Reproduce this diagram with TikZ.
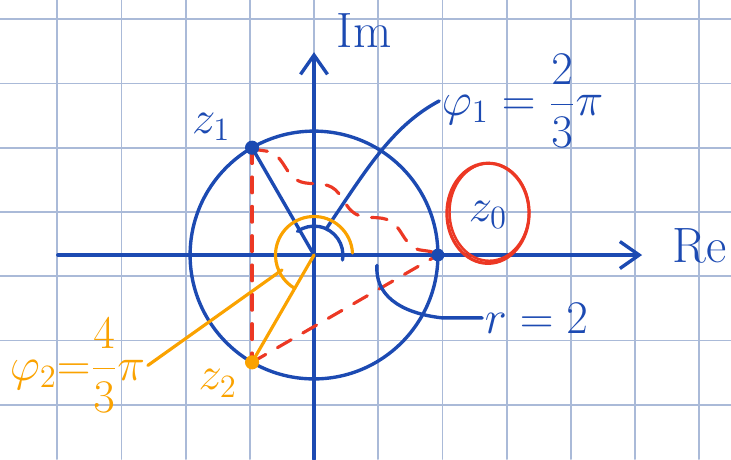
\documentclass[tikz,border=0pt]{standalone}
\usetikzlibrary{arrows.meta,decorations.pathmorphing}

\definecolor{inkblue}{RGB}{28,74,178}
\definecolor{inkred}{RGB}{236,56,36}
\definecolor{inkorange}{RGB}{250,162,0}
\definecolor{gridblue}{RGB}{170,186,216}

\begin{document}
\begin{tikzpicture}[
    line cap=round,
    line join=round,
    gridline/.style={
        draw=gridblue,
        line width=0.8pt
    },
    blueink/.style={
        draw=inkblue,
        line width=1.5pt
    },
    orangeink/.style={
        draw=inkorange,
        line width=1.4pt
    },
    redink/.style={
        draw=inkred,
        line width=1.4pt,
        dash pattern=on 7pt off 6pt
    },
    axisline/.style={
        blueink,
        -{Straight Barb[length=0.3cm,width=0.42cm,line width=1.5pt]}
    },
    handtext/.style={
        font=\fontsize{22}{26}\selectfont,
        inner sep=1pt
    }
]

\useasboundingbox (-4.891,-3.178) rectangle (6.495,3.972);

% -------------------------------------------------
% squared paper
% -------------------------------------------------

\foreach \x in {-4,...,6}
    \draw[gridline] (\x,-3.178) -- (\x,3.972);
\foreach \y in {-3,...,3}
    \draw[gridline] (-4.891,\y+0.67) -- (6.495,\y+0.67);

% -------------------------------------------------
% axes and circle of radius r
% -------------------------------------------------

\coordinate (O) at (0,0);
\coordinate (z0) at (0:1.93);
\coordinate (z1) at (120:1.93);
\coordinate (z2) at (240:1.93);

\draw[axisline] (-3.99,0) -- (5.11,0);
\draw[axisline] (0,-3.18) -- (0,3.16);

\node[handtext, text=inkblue] (Im) at (0.78,3.5) {Im};
\node[handtext, text=inkblue] (Re) at (6.0,0.14) {Re};

\draw[blueink] (O) circle (1.93);

% -------------------------------------------------
% red helper lines between the roots
% -------------------------------------------------

\draw[redink] (z1) -- (z2);
\draw[redink] (z2) -- (z0);
\draw[redink, decorate,
    decoration={snake, amplitude=2.5pt, segment length=30pt}]
    (z1) -- (z0);

% -------------------------------------------------
% phi_1: blue angle and label
% -------------------------------------------------

\draw[blueink] (O) -- (z1);
\draw[blueink] (-10:0.45) arc (-10:125:0.45);
\coordinate (phionefoot) at (65:0.45);

\node[handtext, text=inkblue, anchor=west] (phione) at (1.95,2.4)
    {$\varphi_1=\displaystyle\frac{2}{3}\pi$};
\draw[blueink] (phionefoot)
    .. controls (0.8,1.3) and (1.2,2.0)
        .. (phione.west);

% -------------------------------------------------
% phi_2: orange angle and label
% -------------------------------------------------

\draw[orangeink] (O) -- (z2);
\draw[orangeink] (3:0.6) arc (3:240:0.6);
\coordinate (phitwofoot) at (205:0.55);

\node[handtext, text=inkorange, anchor=west] (phitwo) at (-4.78,-1.72)
    {$\varphi_2{=}\displaystyle\frac{4}{3}\pi$};
\draw[orangeink] (phitwofoot) -- (phitwo.east);

% -------------------------------------------------
% r = 2
% -------------------------------------------------

\coordinate (rfoot) at (0.98,-0.16);
\node[handtext, text=inkblue, anchor=west] (radius) at (2.62,-0.98) {$r=2$};
\draw[blueink] (rfoot)
    .. controls (0.95,-0.6) and (1.3,-0.9)
        .. (2.0,-0.98)
    -- (radius.west);

% -------------------------------------------------
% roots z_0, z_1, z_2
% -------------------------------------------------

\fill[inkblue] (z0) circle (0.1);
\fill[inkblue] (z1) circle (0.11);
\fill[inkorange] (z2) circle (0.11);

\node[handtext, text=inkblue] (zone) at (-1.6,2.0) {$z_1$};
\node[handtext, text=inkorange] (ztwo) at (-1.5,-2.0) {$z_2$};
\node[handtext, text=inkblue] (zzero) at (2.71,0.62) {$z_0$};

\draw[draw=inkred, line width=1.4pt] (2.71,0.65) ellipse (0.64 and 0.78);
\draw[draw=inkred, line width=1.1pt] (2.73,0.67) ellipse (0.62 and 0.76);

\end{tikzpicture}
\end{document}
